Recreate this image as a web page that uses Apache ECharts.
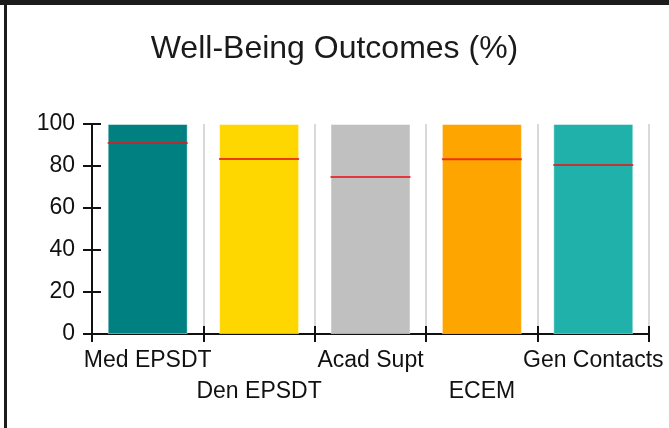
<!DOCTYPE html>
<html>
<head>
<meta charset="utf-8">
<style>
  html, body { margin: 0; padding: 0; background: #fff; }
  #chart { width: 669px; height: 428px; }
</style>
<script src="https://cdn.jsdelivr.net/npm/echarts@6/dist/echarts.min.js"></script>
</head>
<body>
<div id="chart"></div>
<script>
const chartTitle = 'Well-Being Outcomes (%)';
const categories = ['Med EPSDT', 'Den EPSDT', 'Acad Supt', 'ECEM', 'Gen Contacts'];
const outcomeValues = [100, 100, 100, 100, 100];
const targetValues = [91, 83.3, 74.8, 83.2, 80.5];
const barColors = ['#008080', '#FFD700', '#C0C0C0', '#FFA500', '#20B2AA'];
const yTicks = { min: 0, max: 100, interval: 20 };

const font = '"Liberation Sans", Arial, sans-serif';
const chart = echarts.init(document.getElementById('chart'), null, { renderer: 'canvas' });

const baseY = {
  type: 'value', min: yTicks.min, max: yTicks.max, interval: yTicks.interval,
  position: 'left', splitLine: { show: false }
};
const baseX = {
  type: 'category', data: categories, position: 'bottom', offset: 4,
  boundaryGap: true
};

chart.setOption({
  animation: false,
  backgroundColor: '#fff',
  title: {
    text: chartTitle, left: 'center', top: 28,
    textStyle: { fontFamily: font, fontSize: 32, fontWeight: 'normal', color: '#1a1a1a' }
  },
  grid: { left: 92, right: 20, top: 124, bottom: 94, containLabel: false },
  xAxis: [
    Object.assign({}, baseX, {
      axisLine: { show: true, lineStyle: { color: '#111', width: 2 } },
      axisTick: { show: true, inside: false, length: 8, interval: 0, lineStyle: { color: '#111', width: 2 } },
      axisLabel: {
        show: true, interval: 0, margin: 7, fontFamily: font, fontSize: 23, color: '#111',
        lineHeight: 31,
        formatter: (v, i) => (i % 2 === 1 ? '\n' + v : v)
      },
      splitLine: { show: true, interval: 0, lineStyle: { color: '#d9d9d9', width: 2 } }
    }),
    Object.assign({}, baseX, {
      axisLine: { show: false },
      axisTick: { show: true, inside: true, length: 8, interval: 0, lineStyle: { color: '#111', width: 2 } },
      axisLabel: { show: false },
      splitLine: { show: false }
    })
  ],
  yAxis: [
    Object.assign({}, baseY, {
      axisLine: { show: true, lineStyle: { color: '#111', width: 2 } },
      axisTick: { show: true, inside: false, length: 9, lineStyle: { color: '#111', width: 2 } },
      axisLabel: { margin: 17, fontFamily: font, fontSize: 23, color: '#111' }
    }),
    Object.assign({}, baseY, {
      axisLine: { show: false },
      axisTick: { show: true, inside: true, length: 9, lineStyle: { color: '#111', width: 2 } },
      axisLabel: { show: false }
    })
  ],
  series: [
    {
      type: 'bar', xAxisIndex: 0, yAxisIndex: 0, barWidth: 80,
      data: outcomeValues.map((v, i) => ({
        value: v,
        itemStyle: { color: barColors[i], borderColor: 'rgba(255,255,255,0.45)', borderWidth: 1 }
      }))
    },
    {
      type: 'scatter', xAxisIndex: 0, yAxisIndex: 0, symbol: 'rect', symbolSize: [80, 2],
      itemStyle: { color: '#e8141a' }, z: 5,
      data: targetValues
    }
  ],
  graphic: [
    { type: 'rect', shape: { x: 0, y: 0, width: 669, height: 5 }, style: { fill: '#1c1c1c' }, z: 100 },
    { type: 'rect', shape: { x: 4, y: 0, width: 3, height: 428 }, style: { fill: '#1c1c1c' }, z: 100 }
  ]
});
</script>
</body>
</html>
